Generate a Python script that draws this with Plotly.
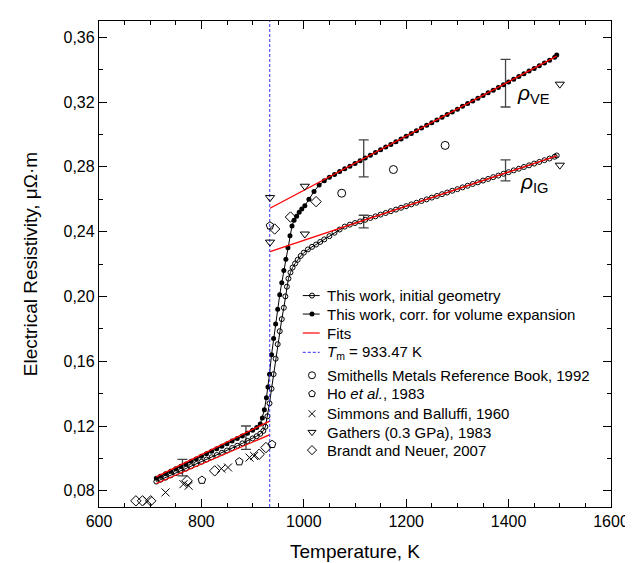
import plotly.graph_objects as go

# "This work" - corrected for volume expansion (filled)
t_ve = [712, 720, 730, 740, 750, 760, 770, 780, 790, 800, 810, 820, 830, 840, 850, 860, 870, 880, 890, 900, 908, 915,
        919, 923, 927, 930, 933, 937, 941, 945, 949, 953, 957, 961, 965, 969, 973, 977, 981, 986, 991, 996, 1002,
        1010, 1020, 1030, 1040, 1050, 1060, 1070, 1080, 1090, 1100, 1110, 1120, 1130, 1140, 1150, 1160, 1170, 1180,
        1190, 1200, 1210, 1220, 1230, 1240, 1250, 1260, 1270, 1280, 1290, 1300, 1310, 1320, 1330, 1340, 1350, 1360,
        1370, 1380, 1390, 1400, 1410, 1420, 1430, 1440, 1450, 1460, 1470, 1480, 1490, 1494]
rho_ve = [0.0878, 0.0890, 0.0905, 0.0920, 0.0936, 0.0951, 0.0966, 0.0982, 0.0997, 0.1013, 0.1028, 0.1044, 0.1060,
          0.1075, 0.1091, 0.1107, 0.1123, 0.1139, 0.1156, 0.1173, 0.1190, 0.1212,
          0.1250, 0.1300, 0.1375, 0.1440, 0.1520, 0.1640, 0.1740, 0.1830, 0.1920, 0.2010, 0.2085, 0.2160, 0.2230,
          0.2300, 0.2375, 0.2435, 0.2470, 0.2495, 0.2520, 0.2540, 0.2560,
          0.2600, 0.2648, 0.2688, 0.2714, 0.2735, 0.2753, 0.2771, 0.2788, 0.2804, 0.2821, 0.2838, 0.2855, 0.2871,
          0.2888, 0.2905, 0.2922, 0.2938, 0.2955, 0.2972, 0.2989, 0.3005, 0.3022, 0.3039, 0.3056, 0.3072, 0.3089,
          0.3106, 0.3123, 0.3139, 0.3156, 0.3173, 0.3190, 0.3206, 0.3223, 0.3240, 0.3257, 0.3273, 0.3290, 0.3307,
          0.3324, 0.3340, 0.3357, 0.3374, 0.3391, 0.3407, 0.3424, 0.3441, 0.3458, 0.3476, 0.3490]

# "This work" - initial geometry (open)
t_ig = [712, 720, 730, 740, 750, 760, 770, 780, 790, 800, 810, 820, 830, 840, 850, 860, 870, 880, 890, 900, 908, 915, 921,
        925, 929, 933, 937, 941, 945, 949, 953, 957, 961, 964, 967, 970, 974, 978, 983, 988, 994, 1000, 1008, 1016,
        1024, 1032, 1040, 1050, 1060, 1070, 1080, 1090, 1100, 1110, 1120, 1130, 1140, 1150, 1160, 1170, 1180, 1190,
        1200, 1210, 1220, 1230, 1240, 1250, 1260, 1270, 1280, 1290, 1300, 1310, 1320, 1330, 1340, 1350, 1360, 1370,
        1380, 1390, 1400, 1410, 1420, 1430, 1440, 1450, 1460, 1470, 1480, 1490, 1494]
rho_ig = [0.0857, 0.0868, 0.0881, 0.0895, 0.0909, 0.0923, 0.0937, 0.0951, 0.0965, 0.0979, 0.0993, 0.1007, 0.1021,
          0.1035, 0.1049, 0.1064, 0.1078, 0.1093, 0.1108, 0.1123, 0.1137, 0.1152, 0.1170,
          0.1195, 0.1260, 0.1340, 0.1430, 0.1520, 0.1615, 0.1705, 0.1785, 0.1860, 0.1930, 0.2000, 0.2060, 0.2110,
          0.2148, 0.2178, 0.2203, 0.2226, 0.2250, 0.2270, 0.2290, 0.2306,
          0.2320, 0.2336, 0.2352, 0.2372, 0.2393, 0.2413, 0.2431, 0.2443, 0.2453, 0.2463, 0.2473, 0.2484, 0.2494,
          0.2505, 0.2515, 0.2526, 0.2536, 0.2547, 0.2557, 0.2568, 0.2578, 0.2589, 0.2599, 0.2610, 0.2620, 0.2631,
          0.2641, 0.2652, 0.2662, 0.2673, 0.2683, 0.2694, 0.2704, 0.2715, 0.2725, 0.2736, 0.2746, 0.2757, 0.2767,
          0.2778, 0.2788, 0.2799, 0.2809, 0.2820, 0.2830, 0.2841, 0.2851, 0.2862, 0.2870]

# linear fits (solid VE, solid IG, liquid VE, liquid IG)
fit_t = [712, 934, None, 712, 934, None, 934, 1494, None, 934, 1494]
fit_rho = [0.0886, 0.1232, None, 0.0845, 0.1147, None, 0.2544, 0.3483, None, 0.2277, 0.2867]

t_melt = 933.47

# literature data
smith_t = [1074, 1175, 1276]
smith_rho = [0.2637, 0.2783, 0.2932]
ho_t = [801, 874, 938, 934]
ho_rho = [0.0866, 0.0980, 0.1087, 0.2436]
simm_t = [695, 730, 765, 775, 839, 852, 894, 903]
simm_rho = [0.0738, 0.0790, 0.0841, 0.0831, 0.0937, 0.0944, 0.1005, 0.1015]
gath_t = [934, 934, 1002, 1002, 1500, 1500]
gath_rho = [0.2610, 0.2335, 0.2680, 0.2385, 0.3310, 0.2810]
brandt_t = [672, 685, 701, 772, 826, 913, 926, 943, 974, 1024]
brandt_rho = [0.0738, 0.0738, 0.0738, 0.0862, 0.0923, 0.1026, 0.1067, 0.2416, 0.2490, 0.2585]

# uncertainty bars
err_t = [763, 887, 1117, 1117, 1394, 1394]
err_rho = [0.0943, 0.1128, 0.2852, 0.2462, 0.3316, 0.2778]
err_half = [0.0051, 0.0072, 0.0114, 0.0039, 0.0147, 0.0065]

FONT = "Liberation Sans, Arial, sans-serif"

fig = go.Figure()

fig.add_trace(go.Scatter(x=err_t, y=err_rho, mode="markers", marker=dict(size=1, color="rgba(0,0,0,0)"),
                         error_y=dict(type="data", array=err_half, color="#444444", thickness=1.3, width=5),
                         hoverinfo="skip"))

fig.add_trace(go.Scatter(x=t_ig, y=rho_ig, mode="lines+markers", name="This work, initial geometry",
                         line=dict(color="black", width=1),
                         marker=dict(symbol="circle-open", size=5, color="black", line=dict(width=1))))
fig.add_trace(go.Scatter(x=t_ve, y=rho_ve, mode="lines+markers", name="This work, corr. for volume expansion",
                         line=dict(color="black", width=1),
                         marker=dict(symbol="circle", size=5, color="black")))
fig.add_trace(go.Scatter(x=fit_t, y=fit_rho, mode="lines", name="Fits",
                         line=dict(color="#ff0000", width=1.3)))
fig.add_trace(go.Scatter(x=[t_melt, t_melt], y=[0.07, 0.37], mode="lines",
                         line=dict(color="#3333ff", width=1, dash="3px,2px")))

sym = dict(size=8, color="black", line=dict(width=1))
fig.add_trace(go.Scatter(x=smith_t, y=smith_rho, mode="markers", marker=dict(symbol="circle-open", **sym)))
fig.add_trace(go.Scatter(x=ho_t, y=ho_rho, mode="markers", marker=dict(symbol="pentagon-open", **sym)))
fig.add_trace(go.Scatter(x=simm_t, y=simm_rho, mode="markers", marker=dict(symbol="x-thin-open", **sym)))
fig.add_trace(go.Scatter(x=gath_t, y=gath_rho, mode="markers", marker=dict(symbol="triangle-down-open", **sym)))
fig.add_trace(go.Scatter(x=brandt_t, y=brandt_rho, mode="markers", marker=dict(symbol="diamond-open", **sym)))

# hand-made legend (Origin style, tight spacing) drawn on a hidden 0..1 overlay axis
leg_text = ["This work, initial geometry", "This work, corr. for volume expansion", "Fits",
            "<i>T</i><sub>m</sub> = 933.47 K", "Smithells Metals Reference Book, 1992", "Ho <i>et al.</i>, 1983",
            "Simmons and Balluffi, 1960", "Gathers (0.3 GPa), 1983", "Brandt and Neuer, 2007"]
leg_y = [0.435, 0.397, 0.358, 0.318, 0.271, 0.233, 0.192, 0.154, 0.117]
leg_x0, leg_x1, leg_xm, leg_xt = 0.398, 0.431, 0.416, 0.441

samples = [
    dict(line=dict(color="black", width=1), marker=dict(symbol="circle-open", size=5, color="black")),
    dict(line=dict(color="black", width=1), marker=dict(symbol="circle", size=5, color="black")),
    dict(line=dict(color="#ff3333", width=1.5)),
    dict(line=dict(color="#5555ff", width=1.2, dash="3px,2px")),
    dict(marker=dict(symbol="circle-open", size=7, color="black", line=dict(width=1))),
    dict(marker=dict(symbol="pentagon-open", size=7, color="black", line=dict(width=1))),
    dict(marker=dict(symbol="x-thin-open", size=7, color="black", line=dict(width=1))),
    dict(marker=dict(symbol="triangle-down-open", size=7, color="black", line=dict(width=1))),
    dict(marker=dict(symbol="diamond-open", size=7, color="black", line=dict(width=1))),
]
for yy, s in zip(leg_y, samples):
    if "line" in s:
        fig.add_trace(go.Scatter(x=[leg_x0, leg_x1], y=[yy, yy], mode="lines", line=s["line"],
                                 xaxis="x2", yaxis="y2", cliponaxis=False, hoverinfo="skip"))
    if "marker" in s:
        fig.add_trace(go.Scatter(x=[leg_xm], y=[yy], mode="markers", marker=s["marker"],
                                 xaxis="x2", yaxis="y2", cliponaxis=False, hoverinfo="skip"))
for yy, txt in zip(leg_y, leg_text):
    fig.add_annotation(x=leg_xt, y=yy, xref="paper", yref="paper", text=txt, showarrow=False,
                       xanchor="left", yanchor="middle", font=dict(size=15, color="black", family=FONT))

fig.add_annotation(x=1448, y=0.325, text="<i>ρ</i><sub>VE</sub>", showarrow=False,
                   font=dict(size=21, color="black", family=FONT))
fig.add_annotation(x=1450, y=0.270, text="<i>ρ</i><sub>IG</sub>", showarrow=False,
                   font=dict(size=21, color="black", family=FONT))

axis_common = dict(showline=True, linecolor="black", linewidth=1.3, mirror="allticks", ticks="inside",
                   ticklen=8, tickwidth=1.2, tickcolor="black", showgrid=False, zeroline=False,
                   tickfont=dict(size=16, color="black", family=FONT))

fig.update_xaxes(range=[600, 1600], dtick=200, title=dict(text="Temperature, K", font=dict(size=19, family=FONT)),
                 minor=dict(dtick=50, ticks="inside", ticklen=4, tickcolor="black"), **axis_common)
fig.update_yaxes(range=[0.07, 0.37], tick0=0.08, dtick=0.04, tickformat=".2f",
                 title=dict(text="Electrical Resistivity, μΩ·m", font=dict(size=19, family=FONT), standoff=20),
                 minor=dict(dtick=0.02, tick0=0.08, ticks="inside", ticklen=4, tickcolor="black"), **axis_common)

fig.update_layout(
    width=633, height=563,
    margin=dict(l=91, r=22, t=13, b=63),
    paper_bgcolor="white", plot_bgcolor="white",
    separators=", ",
    showlegend=False,
    font=dict(family=FONT, color="black"),
    xaxis2=dict(overlaying="x", range=[0, 1], visible=False),
    yaxis2=dict(overlaying="y", range=[0, 1], visible=False),
)

fig.write_html("out.html")
